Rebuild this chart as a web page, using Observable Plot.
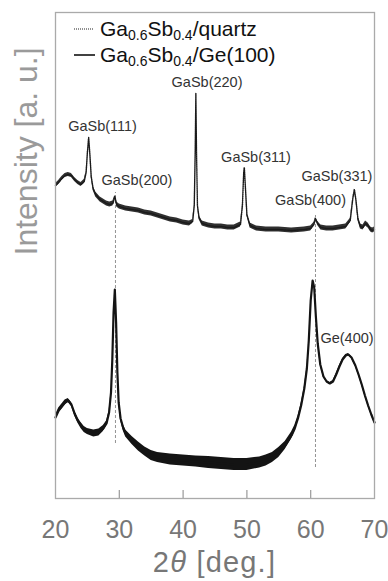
<!DOCTYPE html>
<html>
<head>
<meta charset="utf-8">
<script src="https://cdn.jsdelivr.net/npm/d3@7"></script>
<script src="https://cdn.jsdelivr.net/npm/@observablehq/plot@0.6"></script>
<style>
  html, body { margin: 0; padding: 0; background: #fff; }
  #wrap { position: relative; width: 388px; height: 581px; font-family: "Liberation Sans", Arial, sans-serif; }
  #legend { position: absolute; left: 0; top: 0; pointer-events: none; }
  #xtitle { position: absolute; left: 55px; width: 319px; top: 548px; text-align: center;
            font-size: 29px; line-height: 29px; color: #777; letter-spacing: 1.2px; white-space: nowrap; }
</style>
</head>
<body>
<div id="wrap"></div>
<script>
// ---- data (2θ in degrees, intensity in arbitrary units, offset curves) ----
const quartzX = [20.0,20.5,21.0,21.5,22.0,22.5,23.0,23.5,24.0,24.5,24.8,25.0,25.2,25.4,25.6,25.9,26.3,27.0,27.5,28.0,28.5,29.0,29.3,29.6,30.0,31.0,32.0,33.0,34.0,35.0,36.0,37.0,38.0,39.0,40.0,41.0,41.5,41.75,41.9,42.0,42.1,42.25,42.5,43.0,44.0,45.0,46.0,47.0,48.0,49.0,49.3,49.5,49.6,49.75,50.0,50.5,51.5,53.0,55.0,57.0,59.0,60.0,60.5,60.75,61.1,61.6,62.5,63.5,64.5,65.5,66.2,66.6,66.85,67.1,67.4,67.8,68.2,68.6,69.0,69.4,69.7,70.0];
const quartzY = [313,316,320,323,324,323,319,316,314,317,326,346,361,343,322,310,304,299,297,295,294,295,302,294,292,290,289,288,286,285,283,281,279,278,276,275,277,293,348,405,348,293,281,275,273,272,272,271,271,274,293,326,331,313,284,273,270,269,269,268,269,270,274,280,275,271,270,270,271,272,278,300,309,298,280,272,271,275,273,269,268,269];
const quartzNoise = [2,2,2,2,2,2,2,2,2,2,1,0.5,0.5,0.5,1,2,2.5,2.5,2.5,2.5,2.5,2.5,1,2.5,2.5,2.5,2.5,2.5,2.5,2.5,2.5,2.5,2.5,2.5,2.5,2.5,2,1,0.3,0.3,0.3,1,2,2.5,2.5,2.5,2.5,2.5,2.5,2.5,1,0.5,0.5,0.5,1.5,2.5,2.5,2.5,2.5,2.5,2.5,2.5,2,1,2,2.5,2.5,2.5,2.5,2.5,2,0.8,0.5,0.8,2,2.5,2.5,2.5,2.5,2.5,2.5,2.5];

const geX = [20.0,20.5,21.0,21.5,22.0,22.5,23.0,23.5,24.0,24.5,25.0,26.0,26.8,27.5,28.0,28.4,28.7,28.9,29.1,29.3,29.5,29.7,29.9,30.2,30.6,31.0,32.0,33.0,34.0,35.0,36.0,38.0,40.0,42.0,44.0,46.0,48.0,50.0,52.0,53.0,54.0,55.0,56.0,57.0,57.5,58.0,58.5,59.0,59.4,59.7,60.0,60.3,60.55,60.8,61.1,61.5,62.0,62.5,63.0,63.5,64.0,64.5,65.0,65.5,65.9,66.4,67.0,67.5,68.0,68.5,69.0,69.5,70.0];
const geY = [81,88,92,96,98,94,85,78,73,69,67,65,66,70,75,86,106,138,186,209,176,126,96,80,71,65,58,52,47,43,41,39,38,37,36,35,34,34,36,38,41,46,53,63,70,80,93,110,130,158,198,218,211,183,155,134,122,117,115,117,124,132,139,143,144,141,133,124,114,103,93,84,76];
const geNoise = [2.5,2.5,2.5,2.5,2,2,2.5,2.5,3,3,3,3.5,3.5,3,2.5,1.5,0.8,0.3,0.3,0.3,0.3,0.3,0.8,2,3,3.5,4,4.5,4.5,5,5,5.5,5.5,5.5,6,6,6,6,5.5,5.5,5,5,4,3.5,3,2.5,2,1.5,0.8,0.3,0.3,0.3,0.3,0.3,0.3,0.8,1,1,1,1,1,1,1,1,1,1,1,1,1,1,1,1,1];

const peakLabels = ["GaSb(111)","GaSb(200)","GaSb(220)","GaSb(311)","GaSb(331)","GaSb(400)","Ge(400)"];
const peakLabelX = [27.37,32.77,43.75,51.43,64.12,59.97,65.69];
const peakLabelY = [372,318,416,341,322,298,160];

const refLineX = [29.4, 60.75];
const refLineLo = [55, 31];
const refLineHi = [306, 283];

const xTicks = [20,30,40,50,60,70];
const innerTicks = [30,40,50,60];

const seriesNames = ["Ga0.6Sb0.4/quartz", "Ga0.6Sb0.4/Ge(100)"];
const xTitle = "2θ [deg.]";
const yTitle = "Intensity [a. u.]";

// ---- build tables ----
const quartz = quartzX.map((x, i) => ({x, y: quartzY[i], n: quartzNoise[i]}));
const ge = geX.map((x, i) => ({x, y: geY[i], n: geNoise[i]}));
const labels = peakLabels.map((t, i) => ({t, x: peakLabelX[i], y: peakLabelY[i]}));
const refs = refLineX.map((x, i) => ({x, y1: refLineLo[i], y2: refLineHi[i]}));

const chart = Plot.plot({
  width: 388,
  height: 546,
  marginLeft: 55,
  marginRight: 14,
  marginTop: 12,
  marginBottom: 48,
  style: {fontFamily: "Liberation Sans, Arial, sans-serif", background: "#fff", overflow: "visible"},
  x: {domain: [20, 70]},
  y: {domain: [0, 486], axis: null},
  marks: [
    Plot.ruleX(refs, {x: "x", y1: "y1", y2: "y2", stroke: "#888", strokeWidth: 0.9, strokeDasharray: "3,2"}),
    Plot.areaY(ge, {x: "x", y1: d => d.y - d.n, y2: d => d.y + d.n, fill: "#141414"}),
    Plot.line(ge, {x: "x", y: "y", stroke: "#141414", strokeWidth: 2.2}),
    Plot.areaY(quartz, {x: "x", y1: d => d.y - d.n, y2: d => d.y + d.n, fill: "#1a1a1a", fillOpacity: 0.9}),
    Plot.line(quartz, {x: "x", y: "y", stroke: "#1a1a1a", strokeWidth: 1.4, strokeDasharray: "1.2,0.8"}),
    Plot.text(labels, {x: "x", y: "y", text: "t", fontSize: 14.5, fill: "#333", lineAnchor: "middle"}),
    Plot.ruleX(innerTicks, {y1: 0, y2: 8, stroke: "#999", strokeWidth: 1.2}),
    Plot.frame({stroke: "#aaa", strokeWidth: 1.3}),
    Plot.axisX({ticks: xTicks, tickSize: 0, tickPadding: 22, fontSize: 25, color: "#777", label: null}),
    Plot.text([yTitle], {frameAnchor: "left", rotate: -90, dx: -29, fontSize: 32, fill: "#9a9a9a", lineAnchor: "middle"})
  ]
});

const wrap = document.getElementById("wrap");
wrap.appendChild(chart);

// legend (HTML overlay with inline svg swatches)
const legend = document.createElement("div");
legend.id = "legend";
legend.innerHTML = `
<svg width="388" height="70" style="font-family: 'Liberation Sans', Arial, sans-serif">
  <line x1="74" x2="94" y1="29" y2="29" stroke="#222" stroke-width="1.2" stroke-dasharray="1,1"/>
  <text x="100" y="36" font-size="21" fill="#111">Ga<tspan font-size="14" dy="4">0.6</tspan><tspan dy="-4">Sb</tspan><tspan font-size="14" dy="4">0.4</tspan><tspan dy="-4">/quartz</tspan></text>
  <line x1="74" x2="95" y1="55" y2="55" stroke="#111" stroke-width="1.6"/>
  <text x="100" y="62" font-size="21" fill="#111">Ga<tspan font-size="14" dy="4">0.6</tspan><tspan dy="-4">Sb</tspan><tspan font-size="14" dy="4">0.4</tspan><tspan dy="-4">/Ge(100)</tspan></text>
</svg>`;
wrap.appendChild(legend);

const xt = document.createElement("div");
xt.id = "xtitle";
xt.innerHTML = "2<i>θ</i> [deg.]";
wrap.appendChild(xt);
</script>
</body>
</html>
